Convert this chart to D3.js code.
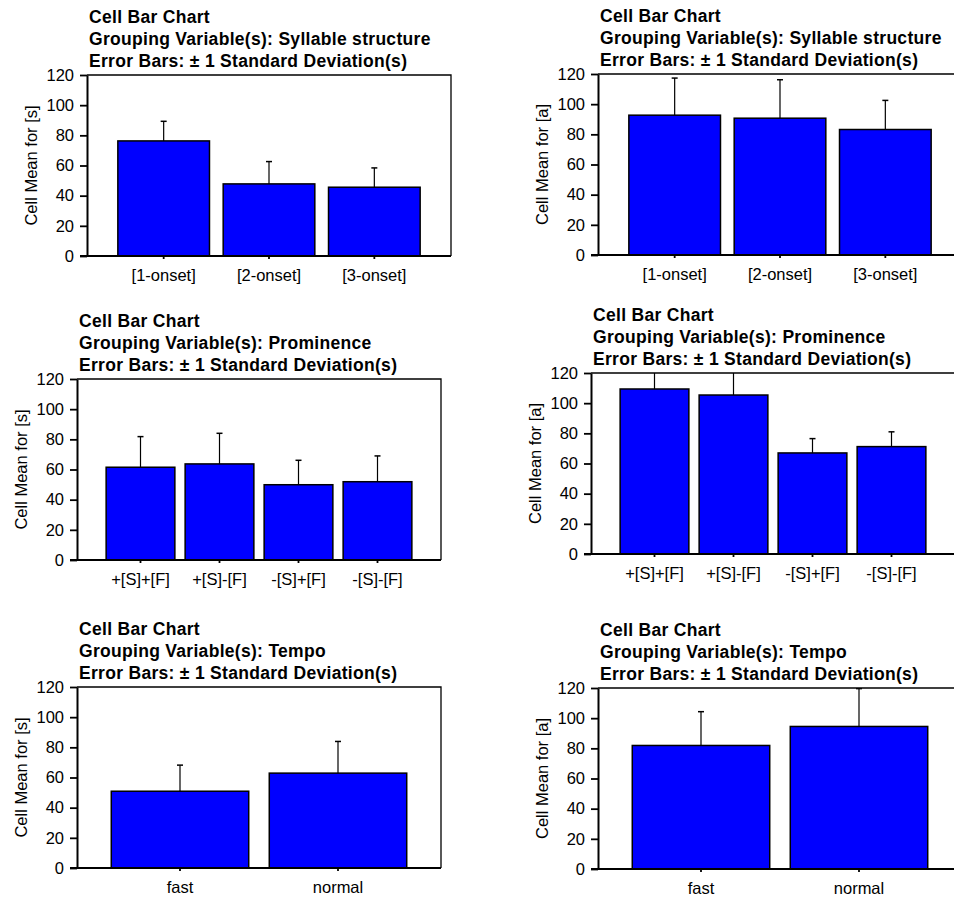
<!DOCTYPE html>
<html>
<head>
<meta charset="utf-8">
<script src="https://cdn.jsdelivr.net/npm/d3@7"></script>
<style>
  body { margin: 0; background: #fff; }
  svg { display: block; font-family: "Liberation Sans", Arial, sans-serif; }
</style>
</head>
<body>
<svg id="chart" width="954" height="902"></svg>
<script>
// values
var syllCats = ["[1-onset]", "[2-onset]", "[3-onset]"];
var promCats = ["+[S]+[F]", "+[S]-[F]", "-[S]+[F]", "-[S]-[F]"];
var tempoCats = ["fast", "normal"];

var syllMeanS = [76.3, 47.8, 45.6];
var syllSdS = [13.0, 14.8, 12.8];
var syllMeanA = [92.7, 90.7, 83.2];
var syllSdA = [24.6, 25.5, 19.3];

var promMeanS = [61.5, 63.7, 49.9, 51.9];
var promSdS = [20.3, 20.3, 16.2, 17.1];
var promMeanA = [109.4, 105.4, 67.0, 71.2];
var promSdA = [20.0, 22.0, 9.5, 9.8];

var tempoMeanS = [50.9, 62.9];
var tempoSdS = [17.3, 21.0];
var tempoMeanA = [81.9, 94.5];
var tempoSdA = [22.4, 25.1];

var yTicks = [0, 20, 40, 60, 80, 100, 120];

var panels = [
    {group: "Syllable structure", seg: "[s]", cats: syllCats, mean: syllMeanS, sd: syllSdS},
    {group: "Syllable structure", seg: "[a]", cats: syllCats, mean: syllMeanA, sd: syllSdA},
    {group: "Prominence", seg: "[s]", cats: promCats, mean: promMeanS, sd: promSdS},
    {group: "Prominence", seg: "[a]", cats: promCats, mean: promMeanA, sd: promSdA},
    {group: "Tempo", seg: "[s]", cats: tempoCats, mean: tempoMeanS, sd: tempoSdS},
    {group: "Tempo", seg: "[a]", cats: tempoCats, mean: tempoMeanA, sd: tempoSdA}
];

// plot-area corners for each panel (left, top)
var layout = [[87, 75], [598, 74], [77, 379], [591, 373], [77, 687], [598, 688]];
var plotW = 364, plotH = 181, inset = 24;

var svg = d3.select("#chart");

panels.forEach(function(p, i){
    var g = svg.append("g")
        .attr("transform", "translate(" + layout[i][0] + "," + layout[i][1] + ")");

    var x = d3.scaleBand()
        .domain(p.cats)
        .range([inset, plotW - inset])
        .paddingInner(0.13)
        .paddingOuter(0.065);
    var y = d3.scaleLinear().domain([0, 120]).range([plotH, 0]);

    var clipId = "clip" + i;
    g.append("clipPath").attr("id", clipId)
        .append("rect").attr("x", 0).attr("y", 0).attr("width", plotW).attr("height", plotH);

    // title
    var title = g.append("text")
        .attr("x", 2)
        .attr("y", -52)
        .style("font-size", "17.5px")
        .style("font-weight", "bold")
        .style("letter-spacing", "0.3px");
    ["Cell Bar Chart",
     "Grouping Variable(s): " + p.group,
     "Error Bars: \u00b1 1 Standard Deviation(s)"].forEach(function(t, k){
        title.append("tspan").attr("x", 2).attr("dy", k == 0 ? 0 : 22).text(t);
    });

    // frame (top and right)
    g.append("path")
        .attr("d", "M0,0H" + plotW + "V" + plotH)
        .attr("fill", "none")
        .attr("stroke", "#000")
        .attr("stroke-width", 1.3);

    var data = p.cats.map(function(c, j){ return {c: c, m: p.mean[j], s: p.sd[j]}; });

    var marks = g.append("g").attr("clip-path", "url(#" + clipId + ")");

    // error bars (upper half only shows above the bar)
    marks.selectAll(".err")
        .data(data)
        .enter()
        .append("line")
        .attr("x1", function(d){ return x(d.c) + x.bandwidth() / 2; })
        .attr("x2", function(d){ return x(d.c) + x.bandwidth() / 2; })
        .attr("y1", function(d){ return y(d.m); })
        .attr("y2", function(d){ return y(d.m + d.s); })
        .attr("stroke", "#000")
        .attr("stroke-width", 1.2);
    marks.selectAll(".cap")
        .data(data)
        .enter()
        .append("line")
        .attr("x1", function(d){ return x(d.c) + x.bandwidth() / 2 - 3; })
        .attr("x2", function(d){ return x(d.c) + x.bandwidth() / 2 + 3; })
        .attr("y1", function(d){ return y(d.m + d.s); })
        .attr("y2", function(d){ return y(d.m + d.s); })
        .attr("stroke", "#000")
        .attr("stroke-width", 1.5);

    marks.selectAll("rect")
        .data(data)
        .enter()
        .append("rect")
        .attr("x", function(d){ return x(d.c); })
        .attr("y", function(d){ return y(d.m); })
        .attr("width", x.bandwidth())
        .attr("height", function(d){ return plotH - y(d.m); })
        .attr("fill", "#0000ff")
        .attr("stroke", "#000")
        .attr("stroke-width", 1.5);

    // axes
    var yAxis = g.append("g")
        .call(d3.axisLeft(y).tickValues(yTicks).tickSize(7).tickPadding(6).tickSizeOuter(0));
    var xAxis = g.append("g")
        .attr("transform", "translate(0," + plotH + ")")
        .call(d3.axisBottom(x).tickSize(3).tickPadding(10).tickSizeOuter(0));

    [yAxis, xAxis].forEach(function(a){
        a.select(".domain").attr("stroke", "#000").attr("stroke-width", 2);
        a.selectAll(".tick line").attr("stroke", "#000").attr("stroke-width", 1.8);
        a.selectAll("text")
            .attr("fill", "#000")
            .style("font-family", "'Liberation Sans', Arial, sans-serif")
            .style("font-size", "16.5px");
    });
    // bottom axis starts at the left tick end like the original
    xAxis.select(".domain").attr("d", "M-7,0H" + plotW);

    g.append("text")
        .attr("transform", "translate(-50," + (plotH / 2) + ") rotate(-90)")
        .attr("text-anchor", "middle")
        .style("font-size", "16.5px")
        .text("Cell Mean for " + p.seg);
});
</script>
</body>
</html>
